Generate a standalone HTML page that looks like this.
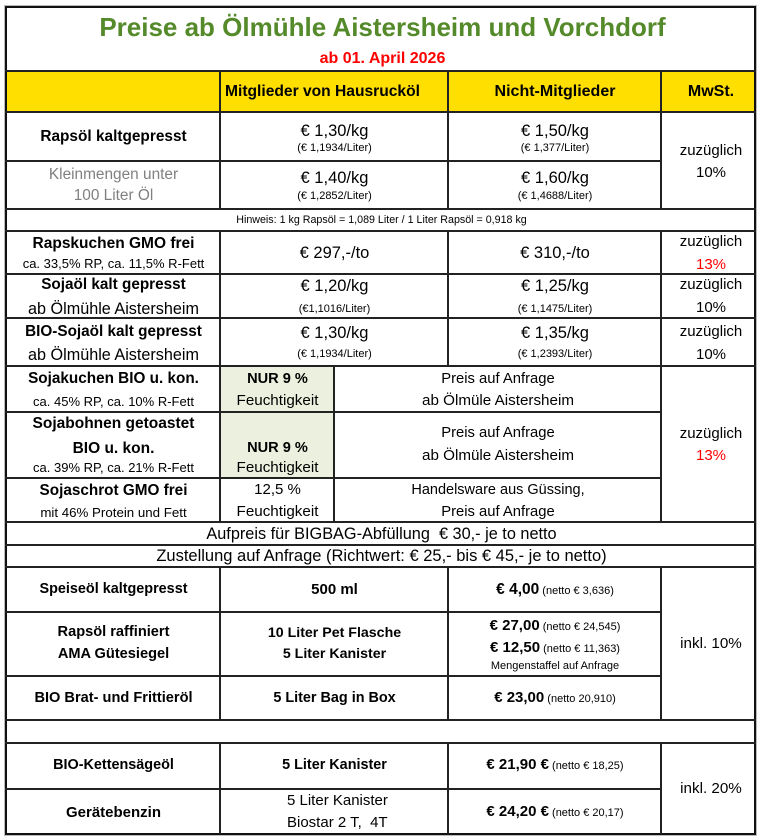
<!DOCTYPE html>
<html><head><meta charset="utf-8">
<style>
html,body{margin:0;padding:0;background:#fff;}
body{width:762px;height:838px;position:relative;overflow:hidden;font-family:"Liberation Sans",Arial,sans-serif;color:#000;}
.h{position:absolute;height:2px;background:#222;}
.v{position:absolute;width:2px;background:#222;}
.t{position:absolute;white-space:pre;text-align:center;height:20px;line-height:20px;}
.b{font-weight:bold;}
.A{left:7px;width:213px;}
.B{left:221px;width:227px;}
.C{left:449px;width:212px;}
.D{left:664px;width:94px;}
.B1{left:221px;width:113px;}
.B2{left:335px;width:326px;}
.F{left:7px;width:749px;}
.s{font-size:11px;}
.p{font-size:16.5px;}
.l{font-size:15.4px;}
.m{font-size:15px;}
.r{color:#f00;}
</style></head><body>
<div style="position:absolute;left:5px;top:71px;width:751px;height:41px;background:#FFDF00"></div>
<div style="position:absolute;left:220px;top:366px;width:114px;height:112px;background:#EBF1DE"></div>
<div style="position:absolute;left:4px;top:5px;width:753px;height:831px;box-sizing:border-box;border:1px solid #bbb"></div>
<div style="position:absolute;left:5px;top:6px;width:751px;height:829px;box-sizing:border-box;border:2px solid #111"></div>

<!-- horizontal lines -->
<div class="h" style="top:70px;left:5px;width:751px"></div>
<div class="h" style="top:111px;left:5px;width:751px"></div>
<div class="h" style="top:160px;left:5px;width:657px"></div>
<div class="h" style="top:208px;left:5px;width:751px"></div>
<div class="h" style="top:230px;left:5px;width:751px"></div>
<div class="h" style="top:273px;left:5px;width:751px"></div>
<div class="h" style="top:317px;left:5px;width:751px"></div>
<div class="h" style="top:365px;left:5px;width:751px"></div>
<div class="h" style="top:411px;left:5px;width:657px"></div>
<div class="h" style="top:477px;left:5px;width:657px"></div>
<div class="h" style="top:521px;left:5px;width:751px"></div>
<div class="h" style="top:544px;left:5px;width:751px"></div>
<div class="h" style="top:566px;left:5px;width:751px"></div>
<div class="h" style="top:611px;left:5px;width:657px"></div>
<div class="h" style="top:675px;left:5px;width:657px"></div>
<div class="h" style="top:719px;left:5px;width:751px"></div>
<div class="h" style="top:742px;left:5px;width:751px"></div>
<div class="h" style="top:788px;left:5px;width:657px"></div>

<!-- vertical lines -->
<div class="v" style="left:219px;top:71px;height:138px"></div>
<div class="v" style="left:219px;top:231px;height:291px"></div>
<div class="v" style="left:219px;top:567px;height:153px"></div>
<div class="v" style="left:219px;top:743px;height:91px"></div>
<div class="v" style="left:447px;top:71px;height:138px"></div>
<div class="v" style="left:447px;top:231px;height:135px"></div>
<div class="v" style="left:447px;top:567px;height:153px"></div>
<div class="v" style="left:447px;top:743px;height:91px"></div>
<div class="v" style="left:333px;top:366px;height:156px"></div>
<div class="v" style="left:660px;top:71px;height:138px"></div>
<div class="v" style="left:660px;top:231px;height:291px"></div>
<div class="v" style="left:660px;top:567px;height:153px"></div>
<div class="v" style="left:660px;top:743px;height:91px"></div>

<!-- title -->
<div class="t b" style="left:7px;width:751px;top:14px;height:26px;line-height:26px;font-size:26px;color:#548A2A">Preise ab Ölmühle Aistersheim und Vorchdorf</div>
<div class="t b r" style="left:7px;width:751px;top:49px;font-size:16px">ab 01. April 2026</div>

<!-- header -->
<div class="t b" style="left:225px;top:81.5px;font-size:15.6px;text-align:left">Mitglieder von Hausrucköl</div>
<div class="t b C" style="top:81.5px;font-size:16px">Nicht-Mitglieder</div>
<div class="t b D" style="top:81.5px;font-size:16px">MwSt.</div>

<!-- Rapsöl -->
<div class="t b A l" style="top:127px">Rapsöl kaltgepresst</div>
<div class="t B p" style="top:121px">€ 1,30/kg</div>
<div class="t B s" style="top:138px">(€ 1,1934/Liter)</div>
<div class="t C p" style="top:121px">€ 1,50/kg</div>
<div class="t C s" style="top:138px">(€ 1,377/Liter)</div>
<div class="t A l" style="top:165px;color:#808080">Kleinmengen unter</div>
<div class="t A l" style="top:186px;color:#808080">100 Liter Öl</div>
<div class="t B p" style="top:168px">€ 1,40/kg</div>
<div class="t B s" style="top:186px">(€ 1,2852/Liter)</div>
<div class="t C p" style="top:168px">€ 1,60/kg</div>
<div class="t C s" style="top:186px">(€ 1,4688/Liter)</div>
<div class="t D m" style="top:140.5px">zuzüglich</div>
<div class="t D m" style="top:162.5px">10%</div>

<div class="t F" style="top:210px;font-size:10.7px">Hinweis: 1 kg Rapsöl = 1,089 Liter / 1 Liter Rapsöl = 0,918 kg</div>

<!-- Rapskuchen -->
<div class="t b A" style="top:233.5px;font-size:15.5px">Rapskuchen GMO frei</div>
<div class="t A" style="top:254px;font-size:13px">ca. 33,5% RP, ca. 11,5% R-Fett</div>
<div class="t B p" style="top:243px">€ 297,-/to</div>
<div class="t C p" style="top:243px">€ 310,-/to</div>
<div class="t D m" style="top:232px">zuzüglich</div>
<div class="t D m r" style="top:255px">13%</div>

<!-- Sojaöl -->
<div class="t b A" style="top:275px;font-size:15.3px">Sojaöl kalt gepresst</div>
<div class="t A" style="top:298.5px;font-size:16.2px">ab Ölmühle Aistersheim</div>
<div class="t B p" style="top:276px">€ 1,20/kg</div>
<div class="t B s" style="top:298.5px">(€1,1016/Liter)</div>
<div class="t C p" style="top:276px">€ 1,25/kg</div>
<div class="t C s" style="top:298.5px">(€ 1,1475/Liter)</div>
<div class="t D m" style="top:275px">zuzüglich</div>
<div class="t D m" style="top:297.5px">10%</div>

<!-- BIO-Sojaöl -->
<div class="t b A" style="top:321.5px;font-size:15.3px">BIO-Sojaöl kalt gepresst</div>
<div class="t A" style="top:345px;font-size:16.2px">ab Ölmühle Aistersheim</div>
<div class="t B p" style="top:322.5px">€ 1,30/kg</div>
<div class="t B s" style="top:344px">(€ 1,1934/Liter)</div>
<div class="t C p" style="top:322.5px">€ 1,35/kg</div>
<div class="t C s" style="top:344px">(€ 1,2393/Liter)</div>
<div class="t D m" style="top:321.5px">zuzüglich</div>
<div class="t D m" style="top:345px">10%</div>

<!-- Sojakuchen -->
<div class="t b A" style="top:368.5px;font-size:15.3px">Sojakuchen BIO u. kon.</div>
<div class="t A" style="top:391.5px;font-size:13px">ca. 45% RP, ca. 10% R-Fett</div>
<div class="t b B1" style="top:368.5px;font-size:14.6px">NUR 9 %</div>
<div class="t B1" style="top:390.5px;font-size:15.2px">Feuchtigkeit</div>
<div class="t B2" style="top:368.5px;font-size:14.8px">Preis auf Anfrage</div>
<div class="t B2" style="top:390.5px;font-size:15.2px">ab Ölmüle Aistersheim</div>

<!-- Sojabohnen -->
<div class="t b A" style="top:414px;font-size:15.5px">Sojabohnen getoastet</div>
<div class="t b A" style="top:439px;font-size:15.5px">BIO u. kon.</div>
<div class="t A" style="top:458px;font-size:13px">ca. 39% RP, ca. 21% R-Fett</div>
<div class="t b B1" style="top:437.5px;font-size:14.6px">NUR 9 %</div>
<div class="t B1" style="top:457.5px;font-size:15.2px">Feuchtigkeit</div>
<div class="t B2" style="top:423px;font-size:14.8px">Preis auf Anfrage</div>
<div class="t B2" style="top:445.5px;font-size:15.2px">ab Ölmüle Aistersheim</div>
<div class="t D m" style="top:423.5px">zuzüglich</div>
<div class="t D m r" style="top:445.5px">13%</div>

<!-- Sojaschrot -->
<div class="t b A" style="top:480.5px;font-size:15.3px">Sojaschrot GMO frei</div>
<div class="t A" style="top:503px;font-size:13.3px">mit 46% Protein und Fett</div>
<div class="t B1" style="top:480px;font-size:15px">12,5 %</div>
<div class="t B1" style="top:502px;font-size:15.2px">Feuchtigkeit</div>
<div class="t B2" style="top:480px;font-size:14.5px">Handelsware aus Güssing,</div>
<div class="t B2" style="top:502px;font-size:14.8px">Preis auf Anfrage</div>

<div class="t F" style="top:523.5px;font-size:16.3px">Aufpreis für BIGBAG-Abfüllung  € 30,- je to netto</div>
<div class="t F" style="top:546px;font-size:16.5px">Zustellung auf Anfrage (Richtwert: € 25,- bis € 45,- je to netto)</div>

<!-- Speiseöl section -->
<div class="t b A" style="top:579px;font-size:14.4px">Speiseöl kaltgepresst</div>
<div class="t b B" style="top:580px;font-size:15px">500 ml</div>
<div class="t C" style="top:580px"><b style="font-size:15.5px">€ 4,00</b><span class="s"> (netto € 3,636)</span></div>

<div class="t b A" style="top:622px;font-size:14.6px">Rapsöl raffiniert</div>
<div class="t b A" style="top:644px;font-size:14.6px">AMA Gütesiegel</div>
<div class="t b B" style="top:622.5px;font-size:14.2px">10 Liter Pet Flasche</div>
<div class="t b B" style="top:644px;font-size:14.2px">5 Liter Kanister</div>
<div class="t C" style="top:616px"><b style="font-size:15px">€ 27,00</b><span class="s"> (netto € 24,545)</span></div>
<div class="t C" style="top:637.5px"><b style="font-size:15px">€ 12,50</b><span class="s"> (netto € 11,363)</span></div>
<div class="t C s" style="top:655.5px">Mengenstaffel auf Anfrage</div>

<div class="t b A" style="top:687.5px;font-size:14.6px">BIO Brat- und Frittieröl</div>
<div class="t b B" style="top:687.5px;font-size:14.4px">5 Liter Bag in Box</div>
<div class="t C" style="top:687.5px"><b style="font-size:15px">€ 23,00</b><span class="s"> (netto 20,910)</span></div>
<div class="t D" style="top:634px;font-size:15.2px">inkl. 10%</div>

<!-- bottom section -->
<div class="t b A" style="top:755px;font-size:14.4px">BIO-Kettensägeöl</div>
<div class="t b B" style="top:755px;font-size:14.4px">5 Liter Kanister</div>
<div class="t C" style="top:755px"><b style="font-size:15px">€ 21,90 €</b><span class="s"> (netto € 18,25)</span></div>
<div class="t b A" style="top:802.5px;font-size:15px">Gerätebenzin</div>
<div class="t" style="left:287px;top:791px;font-size:15px;text-align:left">5 Liter Kanister</div>
<div class="t" style="left:287px;top:812.5px;font-size:15px;text-align:left">Biostar 2 T,  4T</div>
<div class="t C" style="top:802px"><b style="font-size:15px">€ 24,20 €</b><span class="s"> (netto € 20,17)</span></div>
<div class="t D" style="top:779px;font-size:15.2px">inkl. 20%</div>
</body></html>
